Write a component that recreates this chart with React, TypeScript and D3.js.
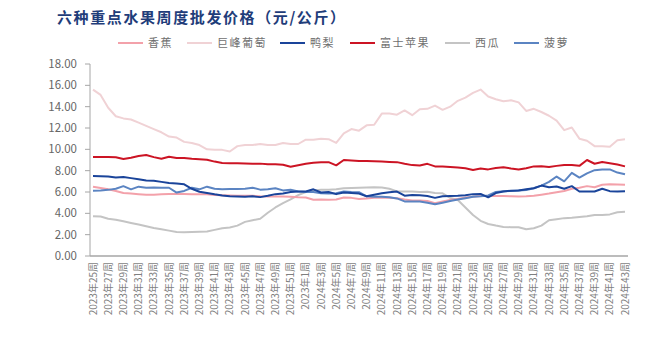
import React from "react";
import * as d3 from "d3";

const tickLabels = [
  "2023年25周","2023年27周","2023年29周","2023年31周","2023年33周","2023年35周",
  "2023年37周","2023年39周","2023年41周","2023年43周","2023年45周","2023年47周",
  "2023年49周","2023年51周","2023年1周","2024年3周","2024年5周","2024年7周",
  "2024年9周","2024年11周","2024年13周","2024年15周","2024年17周","2024年19周",
  "2024年21周","2024年23周","2024年25周","2024年27周","2024年29周","2024年31周",
  "2024年33周","2024年35周","2024年37周","2024年39周","2024年41周","2024年43周",
];

const yTicks = [0, 2, 4, 6, 8, 10, 12, 14, 16, 18];

const banana = [
  6.5,6.38,6.25,6.1,5.9,5.85,5.8,5.75,5.75,5.78,5.82,5.82,5.82,5.8,5.8,5.78,5.72,5.7,5.68,5.66,
  5.66,5.64,5.6,5.58,5.58,5.58,5.55,5.5,5.48,5.28,5.3,5.28,5.3,5.48,5.45,5.35,5.4,5.45,5.45,5.45,
  5.42,5.3,5.2,5.2,5.15,4.95,5.1,5.25,5.35,5.48,5.55,5.62,5.62,5.63,5.63,5.6,5.58,5.6,5.65,5.75,
  5.85,5.98,6.1,6.3,6.4,6.55,6.45,6.68,6.72,6.7,6.68,
];
const grape = [
  15.6,15.1,13.9,13.1,12.9,12.8,12.5,12.2,11.9,11.6,11.2,11.1,10.7,10.6,10.4,10.0,9.95,9.95,9.8,10.3,
  10.4,10.4,10.5,10.4,10.4,10.6,10.5,10.5,10.9,10.9,11.0,10.95,10.6,11.5,11.9,11.75,12.25,12.3,13.35,13.35,
  13.25,13.65,13.2,13.75,13.8,14.1,13.7,14.0,14.55,14.85,15.3,15.6,14.95,14.7,14.5,14.6,14.4,13.6,13.8,13.5,
  13.15,12.7,11.8,12.05,11.0,10.8,10.3,10.3,10.25,10.85,10.95,
];
const pear = [
  7.5,7.47,7.45,7.35,7.4,7.3,7.2,7.08,7.05,6.95,6.85,6.8,6.72,6.3,6.02,5.9,5.78,5.68,5.6,5.58,
  5.55,5.6,5.52,5.65,5.8,5.85,6.0,6.05,6.05,6.25,5.95,6.0,5.8,5.95,5.9,5.85,5.6,5.75,5.88,5.98,
  6.04,5.65,5.72,5.7,5.62,5.45,5.6,5.62,5.65,5.7,5.8,5.82,5.5,5.9,6.05,6.12,6.15,6.25,6.35,6.6,
  6.45,6.52,6.3,6.55,6.05,6.05,6.05,6.3,6.08,6.05,6.07,
];
const apple = [
  9.27,9.27,9.27,9.25,9.1,9.22,9.37,9.47,9.27,9.12,9.3,9.18,9.18,9.12,9.08,9.02,8.85,8.72,8.7,8.7,
  8.68,8.66,8.66,8.6,8.6,8.55,8.36,8.5,8.65,8.75,8.8,8.8,8.5,9.0,8.95,8.9,8.9,8.88,8.85,8.82,
  8.8,8.65,8.52,8.48,8.64,8.4,8.38,8.35,8.3,8.23,8.07,8.2,8.12,8.25,8.33,8.2,8.1,8.22,8.4,8.42,
  8.35,8.45,8.54,8.52,8.45,9.0,8.65,8.82,8.7,8.58,8.4,
];
const watermelon = [
  3.72,3.7,3.5,3.4,3.25,3.1,2.95,2.78,2.62,2.5,2.38,2.25,2.22,2.25,2.28,2.3,2.45,2.6,2.68,2.85,
  3.2,3.35,3.5,4.05,4.55,4.95,5.3,5.7,6.0,6.15,6.2,6.22,6.25,6.35,6.38,6.4,6.42,6.45,6.42,6.3,
  6.05,6.05,6.05,6.0,6.02,5.9,5.88,5.45,5.25,4.55,3.85,3.3,3.0,2.85,2.72,2.7,2.7,2.5,2.6,2.85,
  3.35,3.45,3.55,3.58,3.65,3.72,3.85,3.85,3.9,4.1,4.15,
];
const pineapple = [
  6.12,6.15,6.2,6.3,6.55,6.25,6.5,6.4,6.42,6.4,6.4,5.95,6.1,6.4,6.25,6.5,6.3,6.25,6.28,6.28,
  6.3,6.4,6.22,6.25,6.35,6.15,6.22,6.05,6.0,6.0,5.88,5.85,5.88,6.05,6.0,5.98,5.6,5.55,5.55,5.5,
  5.4,5.12,5.1,5.1,5.0,4.85,5.0,5.15,5.3,5.42,5.55,5.6,5.68,6.0,6.08,6.1,6.15,6.18,6.35,6.6,
  6.95,7.45,7.0,7.8,7.35,7.75,8.05,8.1,8.12,7.82,7.66,
];

const seriesNames = ["香蕉", "巨峰葡萄", "鸭梨", "富士苹果", "西瓜", "菠萝"];
const seriesData = [banana, grape, pear, apple, watermelon, pineapple];
const seriesColors = ["#f3a1aa", "#f0d2d5", "#1a449a", "#cc1424", "#c4c4c4", "#5b84c2"];
const drawOrder = [1, 4, 0, 5, 2, 3];

const W = 649;
const H = 353;
const FONT = "'Noto Sans CJK SC', 'Noto Sans', sans-serif";

export default function App() {
  const n = banana.length;
  const x = d3.scaleLinear().domain([0, n - 1]).range([93, 625]);
  const y = d3.scaleLinear().domain([0, 18]).range([256, 64]);
  const line = d3
    .line<number>()
    .x((_, i) => x(i))
    .y((d) => y(d));

  const legendX = [118, 187, 280, 350, 445, 514];

  return (
    <svg
      width={W}
      height={H}
      style={{ position: "absolute", left: 0, top: 0, background: "#fff" }}
      fontFamily={FONT}
    >
      <text x={57} y={23} fontSize={15} fontWeight={700} fill="#1f3d7a" letterSpacing={1.6}>
        六种重点水果周度批发价格（元/公斤）
      </text>

      {seriesNames.map((name, k) => (
        <g key={name}>
          <line
            x1={legendX[k]}
            x2={legendX[k] + 25}
            y1={43}
            y2={43}
            stroke={seriesColors[k]}
            strokeWidth={2}
          />
          <text x={legendX[k] + 30} y={47} fontSize={11} fill="#6f6f6f" letterSpacing={1.5}>
            {name}
          </text>
        </g>
      ))}

      {yTicks.map((t) => (
        <g key={t}>
          <text
            x={77}
            y={y(t) + 4}
            fontSize={11.5}
            textAnchor="end"
            fill="#666"
          >
            {t.toFixed(2)}
          </text>
          <line x1={85} x2={90} y1={y(t)} y2={y(t)} stroke="#a6a6a6" strokeWidth={1} />
        </g>
      ))}
      <line x1={90} x2={90} y1={y(18)} y2={y(0)} stroke="#a6a6a6" strokeWidth={1} />
      <line x1={90} x2={628} y1={y(0)} y2={y(0)} stroke="#a6a6a6" strokeWidth={1.5} />

      {tickLabels.map((lab, j) => {
        const xx = x(j * 2);
        return (
          <text
            key={lab + j}
            transform={`translate(${xx + 3.5},${262}) rotate(-90)`}
            fontSize={10}
            textAnchor="end"
            fill="#7f7f7f"
          >
            {lab}
          </text>
        );
      })}

      {drawOrder.map((k) => (
        <path
          key={seriesNames[k]}
          d={line(seriesData[k]) || ""}
          fill="none"
          stroke={seriesColors[k]}
          strokeWidth={2}
          strokeLinejoin="round"
        />
      ))}
    </svg>
  );
}
